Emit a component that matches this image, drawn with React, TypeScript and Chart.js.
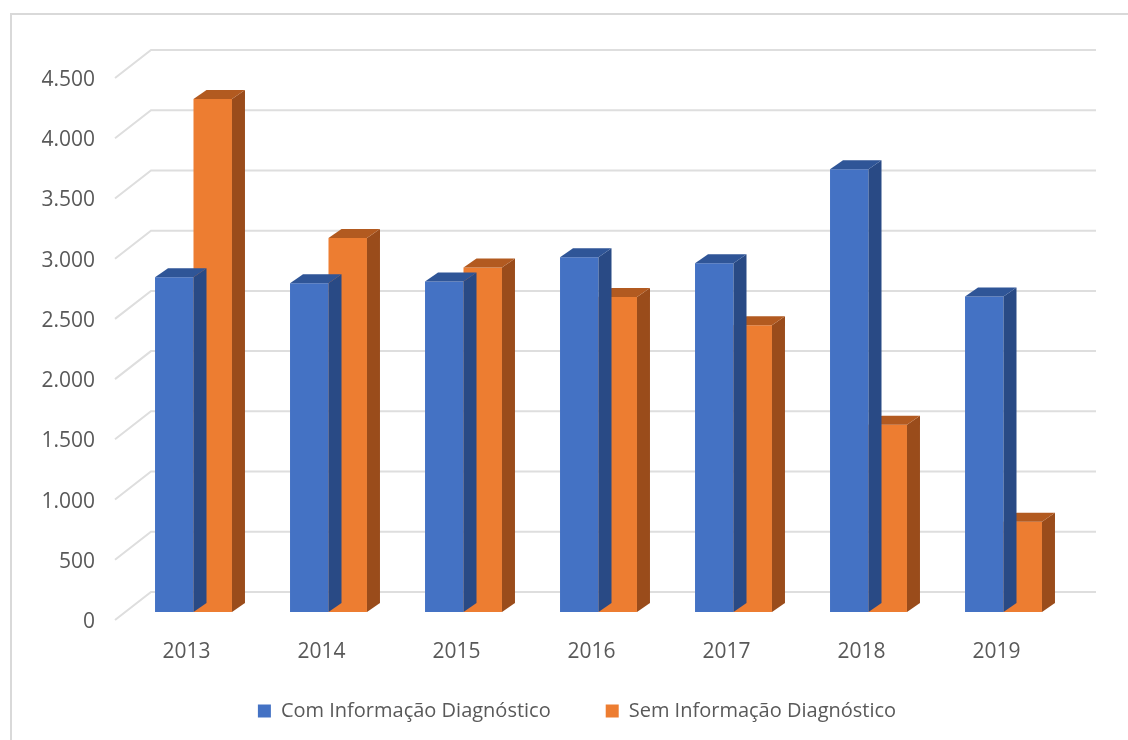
import React, { useEffect, useRef } from "react";
import { Chart, registerables } from "chart.js";

Chart.register(...registerables);

const categories = ["2013", "2014", "2015", "2016", "2017", "2018", "2019"];
const comInfo = [2780, 2730, 2745, 2945, 2895, 3675, 2620];
const semInfo = [4260, 3105, 2860, 2615, 2380, 1555, 750];
const seriesNames = ["Com Informação Diagnóstico", "Sem Informação Diagnóstico"];
const yTicks = [0, 500, 1000, 1500, 2000, 2500, 3000, 3500, 4000, 4500];

const FRONT = ["#4472c4", "#ed7d31"];
const TOP = ["#2f5597", "#b25a20"];
const SIDE = ["#294a85", "#9a4c1b"];
const DX = 13;
const DY = -9;
const TEXT = "#595959";
const FONT = "'Open Sans', 'Noto Sans', sans-serif";

const fmt = (v: number) => String(v).replace(/\B(?=(\d{3})+(?!\d))/g, ".");

const wallPlugin = {
  id: "wall3d",
  beforeDatasetsDraw(chart: any) {
    const { ctx, chartArea, scales } = chart;
    const y = scales.y;
    ctx.save();
    ctx.strokeStyle = "#dedede";
    ctx.lineWidth = 2;
    for (const v of yTicks) {
      const yp = y.getPixelForValue(v);
      ctx.beginPath();
      ctx.moveTo(chartArea.left - 11, yp + 8);
      ctx.lineTo(chartArea.left + 25, yp - 20);
      ctx.lineTo(chartArea.right + 25, yp - 20);
      ctx.stroke();
    }
    ctx.restore();
  },
  afterDatasetDraw(chart: any, args: any) {
    const { ctx } = chart;
    const i = args.index;
    const meta = args.meta;
    ctx.save();
    for (const el of meta.data) {
      const p = el.getProps(["x", "y", "base", "width"], true);
      const left = p.x - p.width / 2;
      const right = p.x + p.width / 2;
      const top = p.y;
      const bottom = p.base;
      ctx.fillStyle = SIDE[i];
      ctx.beginPath();
      ctx.moveTo(right, bottom);
      ctx.lineTo(right + DX, bottom + DY);
      ctx.lineTo(right + DX, top + DY);
      ctx.lineTo(right, top);
      ctx.closePath();
      ctx.fill();
      ctx.fillStyle = TOP[i];
      ctx.beginPath();
      ctx.moveTo(left, top);
      ctx.lineTo(left + DX, top + DY);
      ctx.lineTo(right + DX, top + DY);
      ctx.lineTo(right, top);
      ctx.closePath();
      ctx.fill();
    }
    ctx.restore();
  },
};

export default function App() {
  const ref = useRef<HTMLCanvasElement>(null);
  useEffect(() => {
    if (!ref.current) return;
    const chart = new Chart(ref.current, {
      type: "bar",
      data: {
        labels: categories,
        datasets: [
          { label: seriesNames[0], data: comInfo, backgroundColor: FRONT[0], borderWidth: 0 },
          { label: seriesNames[1], data: semInfo, backgroundColor: FRONT[1], borderWidth: 0 },
        ],
      },
      options: {
        responsive: false,
        animation: false,
        layout: { padding: { left: 30, right: 4, top: 70, bottom: 9 } },
        datasets: { bar: { barPercentage: 1, categoryPercentage: 0.57 } },
        plugins: {
          legend: {
            position: "bottom",
            labels: {
              boxWidth: 13,
              boxHeight: 13,
              padding: 55,
              color: TEXT,
              font: { family: FONT, size: 20 },
            },
          },
          tooltip: { enabled: false },
        },
        scales: {
          x: {
            grid: { display: false, drawTicks: false },
            border: { display: false },
            ticks: { color: TEXT, font: { family: FONT, size: 21 }, mirror: true, padding: -53, labelOffset: -7 },
            afterFit: (s: any) => { s.height = 34; },
          },
          y: {
            min: 0,
            max: 4500,
            grid: { display: false, drawTicks: false },
            border: { display: false },
            ticks: {
              stepSize: 500,
              color: TEXT,
              font: { family: FONT, size: 21 },
              padding: 31,
              labelOffset: 10,
              callback: (v: any) => fmt(Number(v)),
            },
            afterFit: (s: any) => { s.width = 96; },
          },
          yRight: {
            position: "right",
            grid: { display: false, drawTicks: false },
            border: { display: false },
            ticks: { display: false },
            afterFit: (s: any) => { s.width = 53; },
          },
        },
      },
      plugins: [wallPlugin],
    });
    return () => chart.destroy();
  }, []);
  return (
    <div style={{ position: "fixed", left: 0, top: 0, width: 1128, height: 740, overflow: "hidden", background: "#fff" }}>
      <div style={{ position: "absolute", left: 10, top: 13, width: 1300, height: 900, border: "2px solid #d9d9d9" }} />
      <canvas ref={ref} width={1128} height={740} style={{ position: "absolute", left: 0, top: 0 }} />
    </div>
  );
}
